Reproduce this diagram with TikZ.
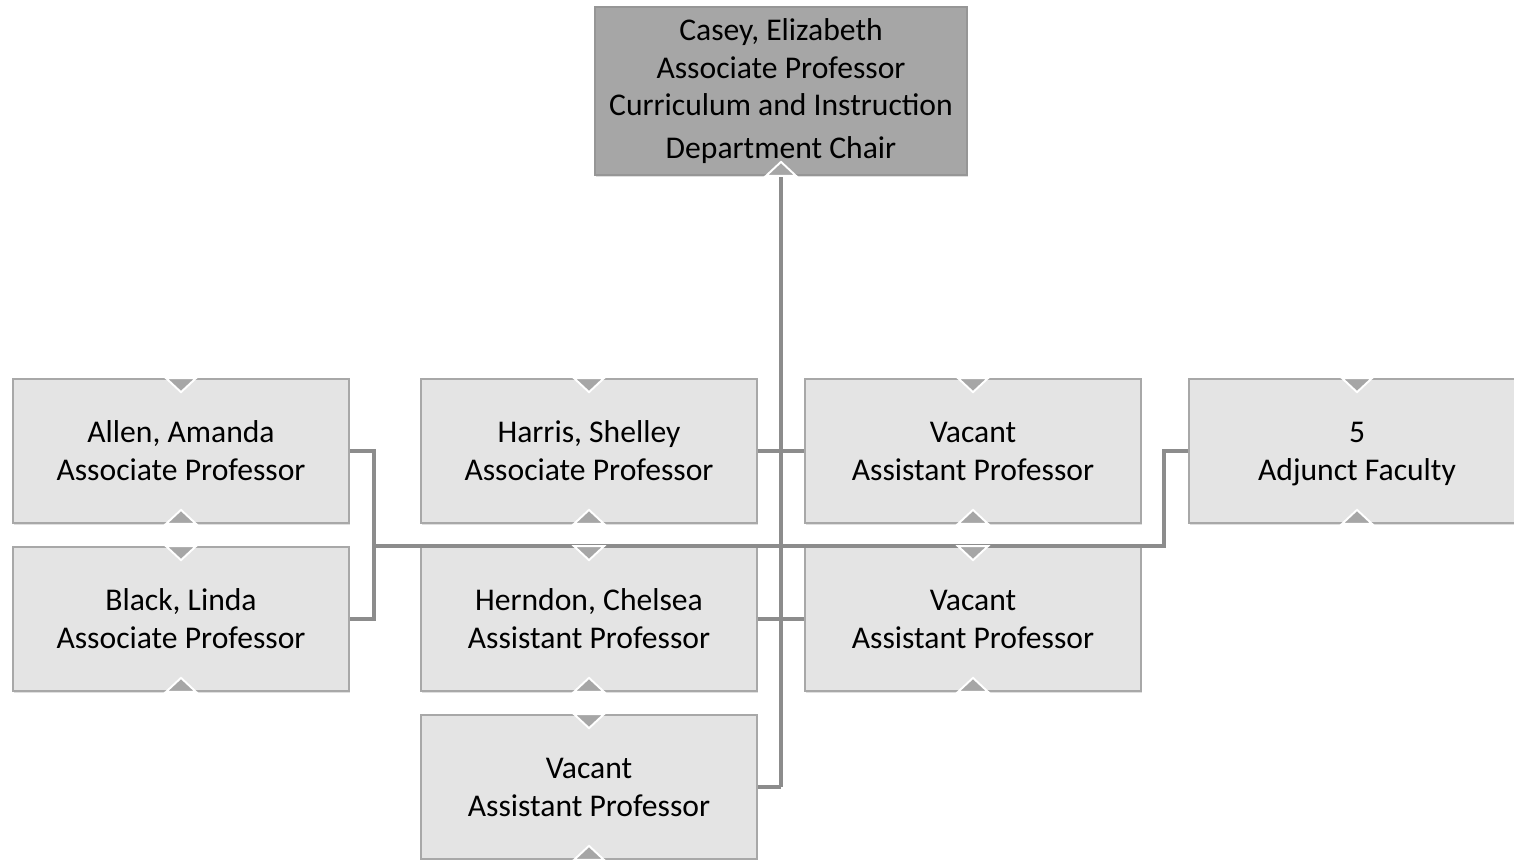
\documentclass[tikz,border=0pt]{standalone}
\usepackage{fontspec}
\setmainfont{Carlito}
\usetikzlibrary{shadows}

\definecolor{boxfill}{RGB}{228,228,228}
\definecolor{boxline}{RGB}{168,168,168}
\definecolor{chairfill}{RGB}{166,166,166}
\definecolor{chairline}{RGB}{150,150,150}
\definecolor{linkgray}{RGB}{140,140,140}
\definecolor{trifill}{RGB}{166,166,166}

\tikzset{
	unit/.style={draw=boxline, line width=1pt, fill=boxfill, minimum width=6.72cm, minimum height=2.88cm,
		inner sep=0pt, align=center, font=\fontsize{18}{21.6}\selectfont,
		drop shadow={shadow xshift=0.8pt, shadow yshift=-1.2pt, opacity=0.25}},
	chairbox/.style={unit, fill=chairfill, draw=chairline, minimum width=7.44cm, minimum height=3.36cm},
	link/.style={draw=linkgray, line width=2pt},
	tri/.style={fill=trifill, draw=white, line width=1.1pt}
}

\begin{document}
\begin{tikzpicture}[x=0.02cm, y=-0.02cm]
				\useasboundingbox (0,0) rectangle (1514,859);
				\clip (0,0) rectangle (1514,859);
				% boxes
				\node[chairbox] (chair) at (781,91) {Casey, Elizabeth\\Associate Professor\\Curriculum and Instruction\\[2.8pt]Department Chair};
				\node[unit] (allen) at (181,451) {Allen, Amanda\\Associate Professor};
				\node[unit] (black) at (181,619) {Black, Linda\\Associate Professor};
				\node[unit] (harris) at (589,451) {Harris, Shelley\\Associate Professor};
				\node[unit] (herndon) at (589,619) {Herndon, Chelsea\\Assistant Professor};
				\node[unit] (vac3) at (589,787) {Vacant\\Assistant Professor};
				\node[unit] (vacA) at (973,451) {Vacant\\Assistant Professor};
				\node[unit] (vacB) at (973,619) {Vacant\\Assistant Professor};
				\node[unit] (adjunct) at (1357,451) {\strut 5\\Adjunct Faculty};
				% connectors
				\coordinate (bus) at (781,546);
				\draw[link] (chair.south) -- (chair.south |- vac3.east);
				\draw[link] (harris.east) -- (vacA.west);
				\draw[link] (herndon.east) -- (vacB.west);
				\draw[link] (vac3.east) -- (chair.south |- vac3.east);
				\draw[link] (allen.east) -- ++(24,0) coordinate (lj) |- (black.east);
				\draw[link] (adjunct.west) -- ++(-24,0) coordinate (rj) -- (rj |- bus) -- (lj |- bus);
				% little markers
				\foreach \n in {allen,black,harris,herndon,vac3,vacA,vacB,adjunct}{
					\filldraw[tri] (\n.north) ++(-15,0) -- ++(30,0) -- ++(-15,14) -- cycle;
					\filldraw[tri] (\n.south) ++(-15,0) -- ++(30,0) -- ++(-15,-14) -- cycle;
				}
				\filldraw[tri] (chair.south) ++(-15,0) -- ++(30,0) -- ++(-15,-14) -- cycle;
			\end{tikzpicture}
\end{document}
